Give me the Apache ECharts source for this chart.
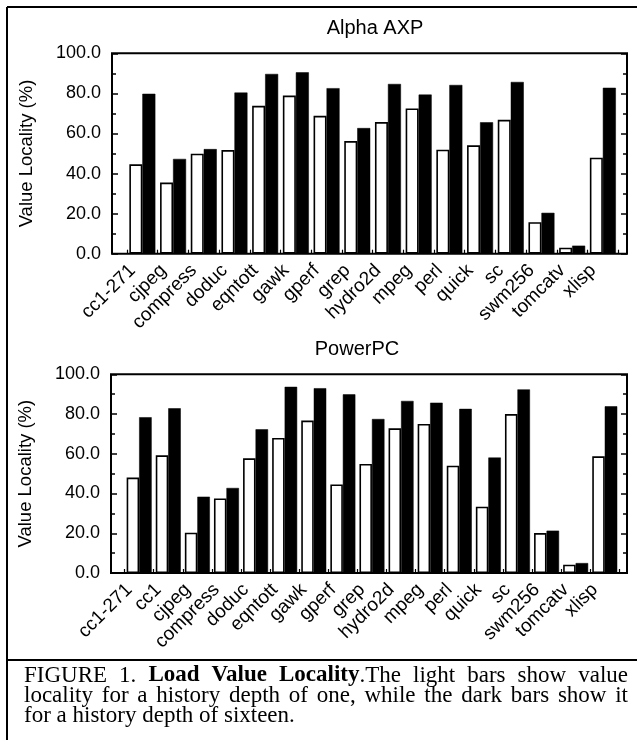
<!DOCTYPE html>
<html><head><meta charset="utf-8">
<script src="https://cdn.jsdelivr.net/npm/echarts@6/dist/echarts.min.js"></script>
<style>html,body{margin:0;padding:0;background:#fff}#c{width:637px;height:740px}</style>
</head><body><div id="c"></div><script>
// ---- data ----
const alphaTitle = 'Alpha AXP';
const ppcTitle = 'PowerPC';
const yAxisName = 'Value Locality (%)';
const yMin = 0, yMax = 100, yStep = 20;
const yTickLabels = ['0.0', '20.0', '40.0', '60.0', '80.0', '100.0'];
const alphaCategories = ['cc1-271','cjpeg','compress','doduc','eqntott','gawk','gperf','grep','hydro2d','mpeg','perl','quick','sc','swm256','tomcatv','xlisp'];
const alphaDepth1  = [44.6, 35.5, 49.9, 51.7, 73.8, 78.9, 68.8, 56.2, 65.7, 72.5, 51.9, 54.1, 66.8, 15.7, 3.0, 47.9];
const alphaDepth16 = [79.8, 47.3, 52.2, 80.4, 89.7, 90.5, 82.6, 62.7, 84.7, 79.4, 84.2, 65.6, 85.7, 20.4, 4.0, 82.8];
const ppcCategories = ['cc1-271','cc1','cjpeg','compress','doduc','eqntott','gawk','gperf','grep','hydro2d','mpeg','perl','quick','sc','swm256','tomcatv','xlisp'];
const ppcDepth1  = [48.0, 59.2, 20.3, 37.5, 57.7, 68.0, 76.7, 44.6, 54.9, 72.8, 75.0, 54.0, 33.4, 80.0, 20.1, 4.2, 58.7];
const ppcDepth16 = [78.4, 82.9, 38.4, 42.8, 72.3, 93.7, 93.0, 89.9, 77.5, 86.6, 85.7, 82.6, 58.1, 92.4, 21.3, 5.0, 83.9];
const captionLines = [
  'FIGURE 1. **Load Value Locality**.The light bars show value',
  'locality for a history depth of one, while the dark bars show it',
  'for a history depth of sixteen.'
];

// ---- layout / style ----
const SANS = '"Liberation Sans", Arial, Helvetica, sans-serif';
const SERIF = '"Liberation Serif", "Times New Roman", serif';
const panels = [
  {frame:{left:112, top:53.3, width:515, height:200.4}, bars:{left:127, width:491.2}, barWidth:13, cats:alphaCategories, d1:alphaDepth1, d16:alphaDepth16, title:alphaTitle, titleX:375, titleY:28},
  {frame:{left:111, top:374.3, width:516, height:198.7}, bars:{left:124.6, width:494.7}, barWidth:12.5, cats:ppcCategories, d1:ppcDepth1, d16:ppcDepth16, title:ppcTitle, titleX:357, titleY:349}
];

const grid = [], xAxis = [], yAxis = [], series = [], graphic = [];
const fmt = v => yTickLabels[Math.round((v - yMin) / yStep)] ?? v.toFixed(1);
panels.forEach((p, i) => {
  const gFrame = grid.length;
  grid.push({left:p.frame.left, top:p.frame.top, width:p.frame.width, height:p.frame.height,
    show:true, borderColor:'#000', borderWidth:2, backgroundColor:'transparent', containLabel:false});
  const gBars = grid.length;
  grid.push({left:p.bars.left, top:p.frame.top, width:p.bars.width, height:p.frame.height, containLabel:false});
  xAxis.push({gridIndex:gFrame, type:'value', min:0, max:1, show:false});
  const xb = xAxis.length;
  xAxis.push({gridIndex:gBars, type:'category', data:p.cats,
    axisLine:{show:false},
    axisTick:{show:true, inside:true, length:4, lineStyle:{color:'#000', width:1.2}},
    axisLabel:{rotate:45, fontSize:19, fontFamily:SANS, color:'#000', margin:4, interval:0, padding:[0, 14, 0, 0]},
    splitLine:{show:false}});
  const tickCommon = {
    type:'value', min:yMin, max:yMax, interval:yStep,
    axisLine:{show:false},
    axisTick:{show:true, inside:true, length:6, lineStyle:{color:'#000', width:1.5}},
    minorTick:{show:true, splitNumber:2, length:4, lineStyle:{color:'#000', width:1.5}},
    splitLine:{show:false}, minorSplitLine:{show:false}
  };
  yAxis.push(Object.assign({}, tickCommon, {gridIndex:gFrame, position:'left',
    axisLabel:{formatter:fmt, fontSize:18, fontFamily:SANS, color:'#000', margin:11},
    name:yAxisName, nameLocation:'middle', nameGap:76,
    nameTextStyle:{fontSize:18.5, fontFamily:SANS, color:'#000'}}));
  yAxis.push(Object.assign({}, tickCommon, {gridIndex:gFrame, position:'right', axisLabel:{show:false}}));
  const yb = yAxis.length;
  yAxis.push({gridIndex:gBars, type:'value', min:yMin, max:yMax, show:false});
  series.push({name:'History depth 1', type:'bar', xAxisIndex:xb, yAxisIndex:yb, data:p.d1,
    barWidth:p.barWidth, barGap:'0%', itemStyle:{color:'#fff', borderColor:'#000', borderWidth:1.6}, silent:true, z:3});
  series.push({name:'History depth 16', type:'bar', xAxisIndex:xb, yAxisIndex:yb, data:p.d16,
    barWidth:p.barWidth, barGap:'0%', itemStyle:{color:'#000', borderColor:'#000', borderWidth:0.5}, silent:true, z:3});
  graphic.push({type:'text', x:p.titleX, y:p.titleY,
    style:{text:p.title, fontSize:20, fontFamily:SANS, fill:'#000', align:'center', verticalAlign:'middle'}});
});

// figure border lines
const lineStyle = {stroke:'#000', lineWidth:2};
graphic.push({type:'line', shape:{x1:7, y1:7, x2:637, y2:7}, style:lineStyle});
graphic.push({type:'line', shape:{x1:7, y1:7, x2:7, y2:740}, style:lineStyle});
graphic.push({type:'line', shape:{x1:7, y1:660, x2:637, y2:660}, style:lineStyle});

// caption (justified lines)
const capSize = 23, capLeft = 24, capRight = 628;
const capY = [675.5, 696, 716.3];
const ctx = document.createElement('canvas').getContext('2d');
function measure(t, bold) { ctx.font = (bold ? 'bold ' : '') + capSize + 'px ' + SERIF; return ctx.measureText(t).width; }
let bold = false;
captionLines.forEach((line, li) => {
  const words = line.split(' ').map(w => {
    const parts = w.split('**'); const segs = [];
    parts.forEach((pt, k) => { if (k > 0) bold = !bold; if (pt) segs.push({t:pt, b:bold}); });
    return segs;
  });
  const widths = words.map(ws => ws.reduce((s, sg) => s + measure(sg.t, sg.b), 0));
  const total = widths.reduce((a, b) => a + b, 0);
  const last = li === captionLines.length - 1;
  const gap = last ? measure(' ', false) : (capRight - capLeft - total) / (words.length - 1);
  let x = capLeft;
  words.forEach((ws, wi) => {
    const text = ws.map(sg => '{' + (sg.b ? 'b' : 'n') + '|' + sg.t + '}').join('');
    graphic.push({type:'text', x:x, y:capY[li], style:{text:text, align:'left', verticalAlign:'middle',
      rich:{b:{fontSize:capSize, fontFamily:SERIF, fontWeight:'bold', fill:'#000'},
            n:{fontSize:capSize, fontFamily:SERIF, fill:'#000'}}}});
    x += widths[wi] + gap;
  });
});

const chart = echarts.init(document.getElementById('c'));
chart.setOption({animation:false, backgroundColor:'#fff', grid, xAxis, yAxis, series, graphic});
</script></body></html>
